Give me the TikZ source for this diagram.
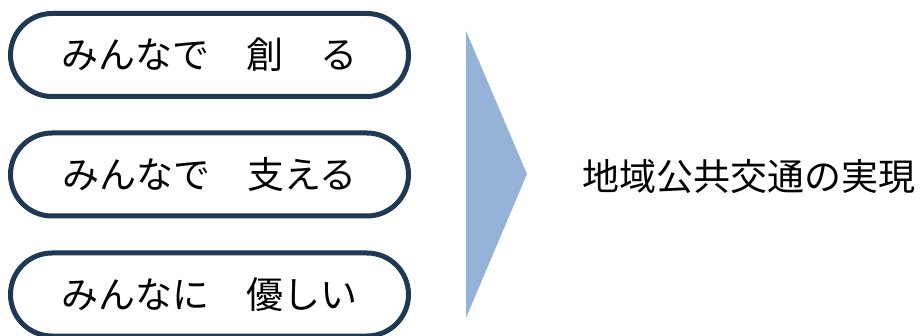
\documentclass[tikz,border=0pt]{standalone}
\usepackage{fontspec}
\newfontfamily\jp{Noto Sans CJK JP}
\definecolor{navy}{HTML}{1F3854}
\definecolor{arrowblue}{HTML}{95B3D7}
\begin{document}
\begin{tikzpicture}[x=1pt,y=-1pt,
  pill/.style={draw=navy, line width=5pt, rounded corners=41.5pt, minimum width=398pt, minimum height=83pt, inner sep=0pt, font=\jp\fontsize{37}{44}\selectfont},
  label/.style={inner sep=0pt, font=\jp\fontsize{37}{44}\selectfont}]
\useasboundingbox (0,0) rectangle (920,336);
\node[pill] (b1) at (209.5,55) {みんなで　創　る};
\node[pill] (b2) at (209.5,174.5) {みんなで　支える};
\node[pill] (b3) at (209.5,294.5) {みんなに　優しい};
\fill[arrowblue] (466,31) -- (527,174) -- (466,318) -- cycle;
\node[label] (goal) at (749,177) {地域公共交通の実現};
\end{tikzpicture}
\end{document}
